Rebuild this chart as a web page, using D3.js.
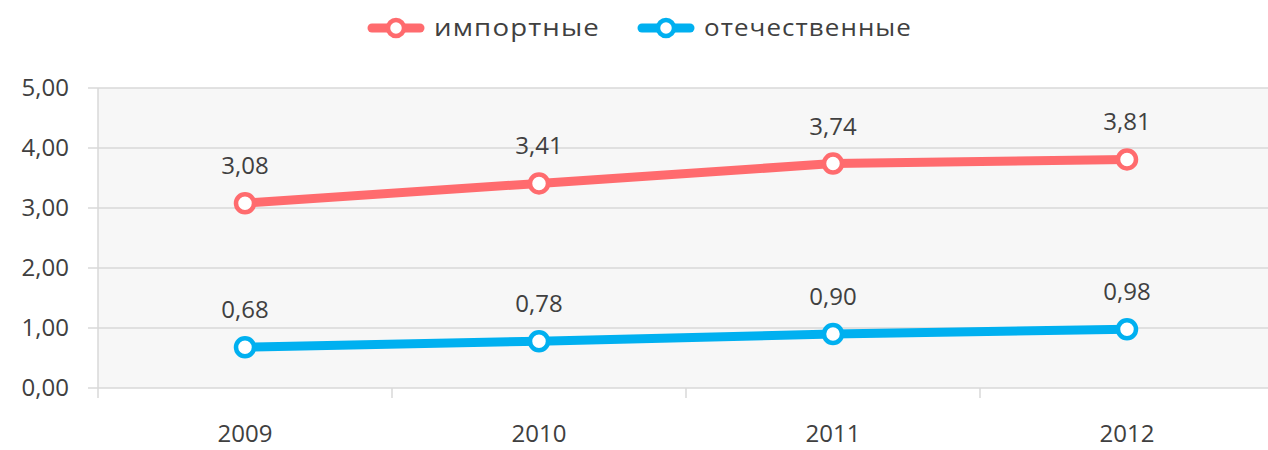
<!DOCTYPE html>
<html lang="ru">
<head>
    <meta charset="UTF-8">
    <title>Импортные и отечественные</title>
    <style>
        body {
            margin: 0;
            background: #fff;
            font-family: 'Open Sans', 'Noto Sans', sans-serif;
        }
        svg text {
            fill: #404040;
        }
    </style>
</head>
<body>
    <svg width="1268" height="450"></svg>
    <script src="https://d3js.org/d3.v7.min.js"></script>
    <script>
        // Data
        const years = ["2009", "2010", "2011", "2012"];
        const importValues = [3.08, 3.41, 3.74, 3.81];
        const domesticValues = [0.68, 0.78, 0.90, 0.98];
        const yTicks = [0, 1, 2, 3, 4, 5];
        const seriesNames = ["импортные", "отечественные"];
        const seriesColors = ["#ff6b6e", "#00b0f0"];

        const margin = { top: 88, left: 98, bottom: 62 };
        const width = 1268, height = 450;
        const plotBottom = height - margin.bottom;
        const fontSize = 24;

        const svg = d3.select("svg");
        const fmt = v => v.toFixed(2).replace(".", ",");

        const x = d3.scaleBand()
            .domain(years)
            .range([margin.left, margin.left + 294 * years.length]);
        const y = d3.scaleLinear()
            .domain([0, 5])
            .range([plotBottom, margin.top]);

        // Plot area background
        svg.append("rect")
            .attr("x", margin.left)
            .attr("y", y(5))
            .attr("width", width - margin.left)
            .attr("height", y(0) - y(5))
            .attr("fill", "#f7f7f7");

        // Horizontal grid + tick labels
        svg.append("g").selectAll("line")
            .data(yTicks)
            .join("line")
            .attr("x1", margin.left - 10)
            .attr("x2", width)
            .attr("y1", d => y(d))
            .attr("y2", d => y(d))
            .attr("stroke", "#d9d9d9")
            .attr("stroke-width", 1.5);

        svg.append("g").selectAll("text")
            .data(yTicks)
            .join("text")
            .attr("x", 69)
            .attr("y", d => y(d))
            .attr("dy", "0.35em")
            .attr("text-anchor", "end")
            .attr("font-size", fontSize)
            .text(fmt);

        // Vertical axis line and category ticks
        svg.append("line")
            .attr("x1", margin.left).attr("x2", margin.left)
            .attr("y1", y(5)).attr("y2", plotBottom + 10)
            .attr("stroke", "#d9d9d9").attr("stroke-width", 1.5);

        svg.append("g").selectAll("line")
            .data(years.slice(1))
            .join("line")
            .attr("x1", d => x(d))
            .attr("x2", d => x(d))
            .attr("y1", plotBottom)
            .attr("y2", plotBottom + 10)
            .attr("stroke", "#d9d9d9")
            .attr("stroke-width", 1.5);

        svg.append("g").selectAll("text")
            .data(years)
            .join("text")
            .attr("x", d => x(d) + x.bandwidth() / 2)
            .attr("y", plotBottom + 54)
            .attr("text-anchor", "middle")
            .attr("font-size", fontSize)
            .text(d => d);

        // Series
        const series = [importValues, domesticValues];
        const line = d3.line()
            .x((d, i) => x(years[i]) + x.bandwidth() / 2)
            .y(d => y(d));

        series.forEach((vals, s) => {
            const g = svg.append("g");
            g.append("path")
                .datum(vals)
                .attr("d", line)
                .attr("fill", "none")
                .attr("stroke", seriesColors[s])
                .attr("stroke-width", 9)
                .attr("stroke-linecap", "round");
            g.selectAll("circle")
                .data(vals)
                .join("circle")
                .attr("cx", (d, i) => x(years[i]) + x.bandwidth() / 2)
                .attr("cy", d => y(d))
                .attr("r", 9)
                .attr("fill", "#fff")
                .attr("stroke", seriesColors[s])
                .attr("stroke-width", 4.5);
            g.selectAll("text")
                .data(vals)
                .join("text")
                .attr("x", (d, i) => x(years[i]) + x.bandwidth() / 2)
                .attr("y", d => y(d) - 29)
                .attr("text-anchor", "middle")
                .attr("font-size", fontSize)
                .text(fmt);
        });

        // Legend
        const legendX = [368, 638];
        const legendTextLen = [166, 208];
        seriesNames.forEach((name, s) => {
            const g = svg.append("g").attr("transform", `translate(${legendX[s]},28)`);
            g.append("line")
                .attr("x1", 4).attr("x2", 52)
                .attr("y1", 0).attr("y2", 0)
                .attr("stroke", seriesColors[s])
                .attr("stroke-width", 9)
                .attr("stroke-linecap", "round");
            g.append("circle")
                .attr("cx", 28).attr("cy", 0).attr("r", 8)
                .attr("fill", "#fff")
                .attr("stroke", seriesColors[s])
                .attr("stroke-width", 4.5);
            g.append("text")
                .attr("x", 66).attr("y", 0)
                .attr("dy", "0.35em")
                .attr("font-size", fontSize)
                .attr("letter-spacing", 1)
                .attr("textLength", legendTextLen[s])
                .attr("lengthAdjust", "spacingAndGlyphs")
                .text(name);
        });
    </script>
</body>
</html>
